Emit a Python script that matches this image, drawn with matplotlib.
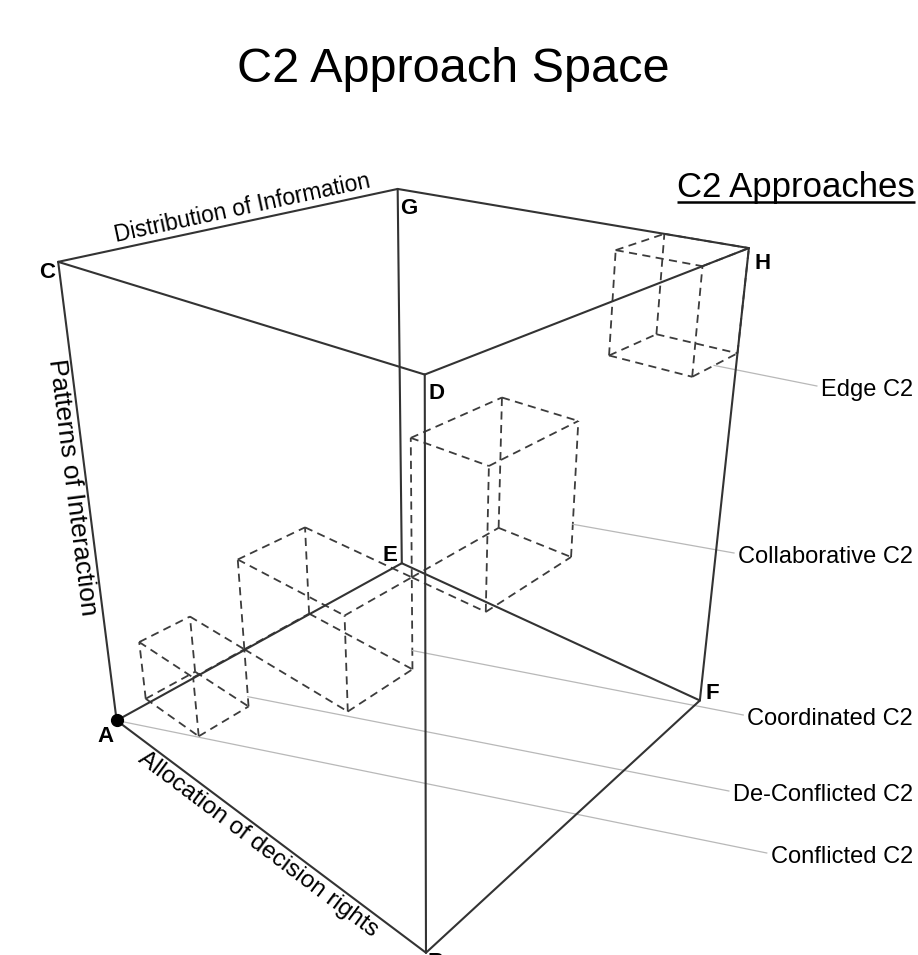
import numpy as np
import matplotlib.pyplot as plt

# --- data ---------------------------------------------------------------
title = 'C2 Approach Space'
legend_title = 'C2 Approaches'

# cube corners in unit coordinates (x: decision rights, y: information, z: interaction)
corner_names = ['A', 'B', 'C', 'D', 'E', 'F', 'G', 'H']
corner_xyz = [(0, 0, 0), (1, 0, 0), (0, 0, 1), (1, 0, 1),
              (0, 1, 0), (1, 1, 0), (0, 1, 1), (1, 1, 1)]
cube_edges = [('A', 'B'), ('A', 'C'), ('A', 'E'), ('B', 'D'), ('B', 'F'), ('C', 'D'),
              ('C', 'G'), ('D', 'H'), ('E', 'F'), ('E', 'G'), ('F', 'H'), ('G', 'H')]

axis_names = ['Allocation of decision rights', 'Distribution of Information',
              'Patterns of Interaction']

approach_names = ['Conflicted C2', 'De-Conflicted C2', 'Coordinated C2',
                  'Collaborative C2', 'Edge C2']
# extent of each approach region in the unit cube (Conflicted is the point A)
box_x = [(0.053, 0.259), (0.259, 0.600), (0.600, 0.805), (0.801, 1.0)]
box_y = [(0.053, 0.198), (0.198, 0.399), (0.399, 0.698), (0.808, 1.0)]
box_z = [(0.053, 0.194), (0.194, 0.403), (0.403, 0.693), (0.796, 1.0)]

# --- view / layout ------------------------------------------------------
W, H = 918, 955
# where the eight cube corners sit on the page (px), used to fit the perspective
corner_px = [(116, 721), (426, 952), (58, 263), (426, 373),
             (403, 562), (699, 702), (397, 189), (749, 248)]
corner_label_off = {'A': (-11, 22), 'B': (10, 15), 'C': (-11, 16), 'D': (12, 24),
                    'E': (-12, -2), 'F': (12, -1), 'G': (11, 25), 'H': (14, 21)}
label_baselines = [863, 801, 725, 563, 396]
leader_t = [0.175, 0.21, 0.25, 0.47]   # where the leader leaves each box

LINE = '#333333'
DASH = '#3c3c3c'
LEADER = '#b8b8b8'
FONT = 'Liberation Sans'

S = 1000.0


def fit_camera(xyz, uv):
    # 3x4 projection matrix from point correspondences (DLT)
    rows = []
    for (X, Y, Z), (u, v) in zip(xyz, uv):
        u, v = u / S, v / S
        rows.append([X, Y, Z, 1, 0, 0, 0, 0, -u * X, -u * Y, -u * Z, -u])
        rows.append([0, 0, 0, 0, X, Y, Z, 1, -v * X, -v * Y, -v * Z, -v])
    _, _, vt = np.linalg.svd(np.array(rows, float))
    return vt[-1].reshape(3, 4)


def project(P, pts):
    pts = np.atleast_2d(np.asarray(pts, float))
    hom = np.hstack([pts, np.ones((len(pts), 1))]) @ P.T
    return hom[:, :2] / hom[:, 2:] * S


def box_segments(xr, yr, zr):
    segs = []
    for i in xr:
        for j in yr:
            segs.append([(i, j, zr[0]), (i, j, zr[1])])
    for i in xr:
        for k in zr:
            segs.append([(i, yr[0], k), (i, yr[1], k)])
    for j in yr:
        for k in zr:
            segs.append([(xr[0], j, k), (xr[1], j, k)])
    return segs


def edge_text(ax, p0, p1, text, t, offset, size):
    # text along the projected edge p0->p1, baseline shifted along the glyph "up" vector
    d = (p1 - p0) / np.hypot(*(p1 - p0))
    up = np.array([d[1], -d[0]])
    pos = p0 + t * (p1 - p0) + offset * up
    ang = np.degrees(np.arctan2(-d[1], d[0]))
    ax.text(pos[0], pos[1], text, rotation=ang, rotation_mode='anchor',
            ha='center', va='baseline', fontsize=size, family=FONT)


P = fit_camera(corner_xyz, corner_px)
corner = {n: project(P, c)[0] for n, c in zip(corner_names, corner_xyz)}

fig = plt.figure(figsize=(W / 100, H / 100), dpi=100)
ax = fig.add_axes([0, 0, 1, 1])
ax.set_xlim(0, W)
ax.set_ylim(H, 0)
ax.axis('off')

# approach boxes
for xr, yr, zr in zip(box_x, box_y, box_z):
    for s in box_segments(xr, yr, zr):
        q = project(P, s)
        ax.plot(q[:, 0], q[:, 1], color=DASH, lw=1.3, ls=(0, (4.5, 3)), zorder=1)

# cube
for a, b in cube_edges:
    ax.plot([corner[a][0], corner[b][0]], [corner[a][1], corner[b][1]],
            color=LINE, lw=1.5, zorder=3, solid_capstyle='round')
ax.plot(*corner['A'], 'o', color='black', ms=8.5, zorder=4)

for n in corner_names:
    dx, dy = corner_label_off[n]
    ax.text(corner[n][0] + dx, corner[n][1] + dy, n, ha='center', va='baseline',
            fontsize=16, fontweight='bold', family=FONT)

# axis names
edge_text(ax, corner['A'], corner['B'], axis_names[0], 0.485, -20, 17.5)
edge_text(ax, corner['C'], corner['G'], axis_names[1], 0.55, 7.5, 16.5)
edge_text(ax, corner['C'], corner['A'], axis_names[2], 0.488, -22, 19)

# titles
ax.text(453.5, 82, title, ha='center', va='baseline', fontsize=35, family=FONT)
head = ax.text(915, 197, legend_title, ha='right', va='baseline', fontsize=25, family=FONT)

# approach labels with leader lines
labels = [ax.text(913, y, name, ha='right', va='baseline', fontsize=17, family=FONT)
          for name, y in zip(approach_names, label_baselines)]

anchors = [(0.0, 0.0, 0.0)]
for k, t in enumerate(leader_t):
    (x0, x1), (y0, y1), (z0, z1) = box_x[k], box_y[k], box_z[k]
    if k < 3:
        anchors.append((x1, y1, z0 + t * (z1 - z0)))
    else:
        anchors.append((x1, y0 + t * (y1 - y0), z0))

fig.canvas.draw()
inv = ax.transData.inverted()
for lab, y, a3 in zip(labels, label_baselines, anchors):
    bb = lab.get_window_extent()
    x_left = inv.transform((bb.x0, bb.y0))[0]
    start = project(P, a3)[0]
    ax.plot([start[0], x_left - 4], [start[1], y - 10], color=LEADER, lw=0.9, zorder=2)

bb = head.get_window_extent()
hx0 = inv.transform((bb.x0, bb.y0))[0]
ax.plot([hx0, 915], [202, 202], color='black', lw=1.8, solid_capstyle='butt')

fig.savefig('out.png', dpi=100)
